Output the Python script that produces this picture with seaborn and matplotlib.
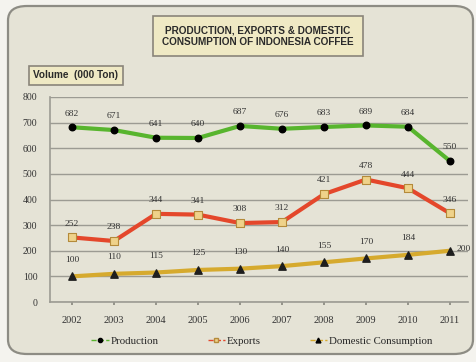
import matplotlib
matplotlib.use("Agg")
import matplotlib.pyplot as plt
from matplotlib.patches import FancyBboxPatch
from matplotlib.lines import Line2D
import pandas as pd
import seaborn as sns

years = [2002, 2003, 2004, 2005, 2006, 2007, 2008, 2009, 2010, 2011]
production = [682, 671, 641, 640, 687, 676, 683, 689, 684, 550]
exports = [252, 238, 344, 341, 308, 312, 421, 478, 444, 346]
domestic = [100, 110, 115, 125, 130, 140, 155, 170, 184, 200]
series_names = ["Production", "Exports", "Domestic Consumption"]
yticks = [0, 100, 200, 300, 400, 500, 600, 700, 800]

df = pd.DataFrame({"year": years, "Production": production,
                   "Exports": exports, "Domestic Consumption": domestic})
long = df.melt(id_vars="year", var_name="series", value_name="volume")

sns.set_theme(style="white")
plt.rcParams["font.family"] = ["Liberation Serif", "DejaVu Serif"]

W, H = 477, 362
fig = plt.figure(figsize=(W / 100, H / 100), dpi=100)
fig.patch.set_facecolor("#f4f3ee")

# rounded panel behind everything
panel = FancyBboxPatch((8 / W, 8 / H), (W - 12) / W, (H - 14) / H,
                       boxstyle="round,pad=0,rounding_size=0.04",
                       transform=fig.transFigure, facecolor="#e5e3d6",
                       edgecolor="#8d8c84", linewidth=1.6, zorder=-5)
fig.patches.append(panel)

ax = fig.add_axes([50 / W, (H - 302) / H, 418 / W, 205 / H])
ax.set_zorder(2)
ax.set_facecolor("#e5e3d6")

colors = {"Production": "#58b52e", "Exports": "#e4472b", "Domestic Consumption": "#d6aa2e"}
sns.lineplot(data=long, x="year", y="volume", hue="series", palette=colors,
             linewidth=3, legend=False, ax=ax, zorder=3)

ax.scatter(years, production, marker="o", s=22, color="black", zorder=5)
ax.scatter(years, exports, marker="s", s=30, facecolor="#efd28a", edgecolor="#b48a3a",
           linewidth=0.8, zorder=5)
ax.scatter(years, domestic, marker="^", s=28, color="#1e1e1e", zorder=5)

lab = dict(textcoords="offset points", fontsize=6.8, color="#333333")
for x, v in zip(years, production):
    ax.annotate(str(v), (x, v), xytext=(0, 7), ha="center", va="bottom", **lab)
for x, v in zip(years, exports):
    ax.annotate(str(v), (x, v), xytext=(0, 7), ha="center", va="bottom", **lab)
for i, (x, v) in enumerate(zip(years, domestic)):
    if i == len(years) - 1:
        ax.annotate(str(v), (x, v), xytext=(5, 1), ha="left", va="center", **lab)
    else:
        ax.annotate(str(v), (x, v), xytext=(0, 9), ha="center", va="bottom", **lab)

ax.set_xlim(2002 - 22 / 42, 2011 + 18 / 42)
ax.set_ylim(0, 800)
ax.set_yticks(yticks)
ax.set_xticks(years)
ax.set_xticklabels([str(y) for y in years], fontsize=7.5, color="#333333")
ax.set_yticklabels([str(y) for y in yticks], fontsize=7, color="#333333")
ax.tick_params(axis="y", length=0, pad=9)
ax.tick_params(axis="x", length=2, pad=8, bottom=True, color="#8a8a80")
ax.grid(axis="y", color="#9c9b93", linewidth=1.0)
ax.set_axisbelow(True)
ax.set_xlabel("")
ax.set_ylabel("")
for side in ["top", "right"]:
    ax.spines[side].set_visible(False)
ax.spines["left"].set_color("#9c9b93")
ax.spines["bottom"].set_color("#9c9b93")
ax.spines["left"].set_linewidth(1.2)
ax.spines["bottom"].set_linewidth(1.2)

# title box
fig.text(258 / W, 1 - 36 / H, "PRODUCTION, EXPORTS & DOMESTIC\nCONSUMPTION OF INDONESIA COFFEE",
         ha="center", va="center", fontsize=7.2, fontweight="bold", color="#2a2a2a",
         family=["Liberation Sans", "DejaVu Sans"], linespacing=1.2,
         bbox=dict(boxstyle="square,pad=0.9", facecolor="#efe9c4", edgecolor="#8a857a", linewidth=1.2))

fig.text(76 / W, 1 - 75 / H, "Volume  (000 Ton)", ha="center", va="center",
         fontsize=7.2, fontweight="bold", color="#2a2a2a", family=["Liberation Sans", "DejaVu Sans"],
         bbox=dict(boxstyle="square,pad=0.45", facecolor="#efe9c4", edgecolor="#8a857a", linewidth=1.2))

# legend
handles = [
    Line2D([], [], color=colors["Production"], linewidth=1, linestyle="--", marker="o", markersize=3, markerfacecolor="black", markeredgecolor="black"),
    Line2D([], [], color=colors["Exports"], linewidth=1, linestyle="--", marker="s", markersize=3.5, markerfacecolor="#efd28a", markeredgecolor="#b48a3a"),
    Line2D([], [], color=colors["Domestic Consumption"], linewidth=1, linestyle="--", marker="^", markersize=3.5, markerfacecolor="black", markeredgecolor="black"),
]
fig.legend(handles, series_names, loc="center", bbox_to_anchor=(262 / W, 1 - 341 / H),
           ncol=3, frameon=False, fontsize=7.8, handlelength=1.6, handletextpad=0.2,
           columnspacing=4.5)

fig.savefig("out.png", dpi=100, facecolor=fig.get_facecolor())
